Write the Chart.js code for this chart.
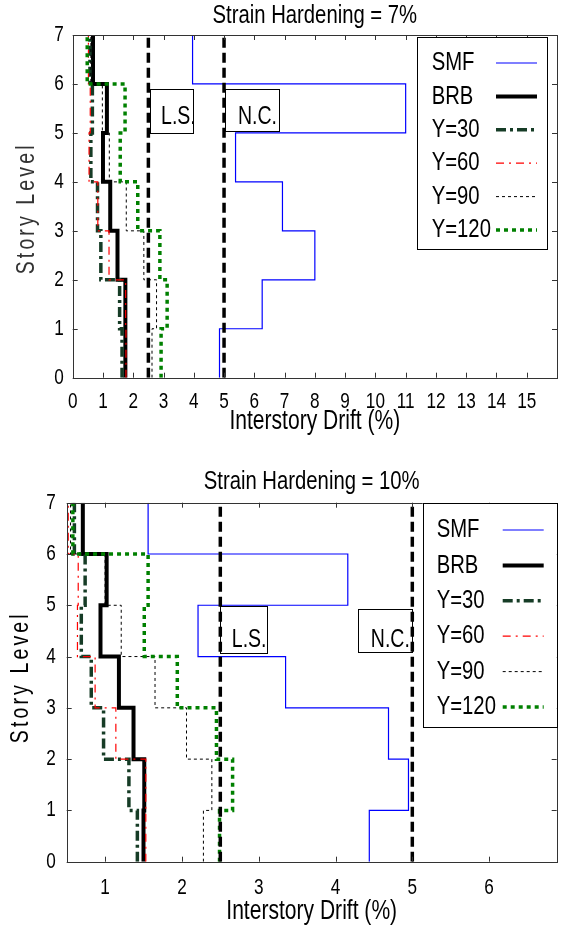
<!DOCTYPE html>
<html>
<head>
<meta charset="utf-8">
<script src="https://cdn.jsdelivr.net/npm/chart.js@4"></script>
<style>
  html, body { margin: 0; padding: 0; background: #fff; }
  body { width: 562px; height: 927px; position: relative; overflow: hidden; }
  canvas { position: absolute; left: 0; }
  #top { top: 0; }
  #bottom { top: 460px; }
</style>
</head>
<body>
<canvas id="top" width="562" height="445"></canvas>
<canvas id="bottom" width="562" height="467"></canvas>
<script>
// story levels (also the y ticks)
const storyLevels = [0, 1, 2, 3, 4, 5, 6, 7];
const seriesNames = ["SMF", "BRB", "Y=30", "Y=60", "Y=90", "Y=120"];

// strain hardening = 7%, drift per story (story 1 .. 7)
const smf7 = [4.85, 6.26, 8.0, 6.93, 5.38, 11.0, 3.96];
const brb7 = [1.74, 1.74, 1.48, 1.24, 1.0, 1.13, 0.67];
const y30_7 = [1.63, 1.55, 0.93, 0.82, 0.6, 0.65, 0.57];
const y60_7 = [1.76, 1.75, 1.2, 0.83, 0.54, 0.58, 0.52];
const y90_7 = [2.62, 2.77, 2.35, 1.77, 1.21, 0.98, 0.6];
const y120_7 = [2.92, 3.12, 2.88, 2.15, 1.57, 1.73, 0.48];
const xTicks7 = [0, 1, 2, 3, 4, 5, 6, 7, 8, 9, 10, 11, 12, 13, 14, 15];

// strain hardening = 10%
const smf10 = [4.44, 4.95, 4.69, 3.35, 2.21, 4.16, 1.56];
const brb10 = [1.50, 1.51, 1.37, 1.18, 0.94, 1.02, 0.71];
const y30_10 = [1.42, 1.31, 0.98, 0.82, 0.69, 0.74, 0.6];
const y60_10 = [1.53, 1.53, 1.14, 0.87, 0.64, 0.65, 0.52];
const y90_10 = [2.28, 2.39, 2.06, 1.65, 1.21, 1.0, 0.55];
const y120_10 = [2.49, 2.66, 2.45, 1.94, 1.51, 1.56, 0.58];
const xTicks10 = [1, 2, 3, 4, 5, 6];

// performance limits (drift %)
const limitLS = 2.5;
const limitNC = 5.0;

const FONT = "'Liberation Sans', Arial, sans-serif";
const SQUEEZE = 0.78; // no narrow font installed, so text is compressed sideways

const styles = [
  { color: "#0000ff", width: 1.2, dash: [] },
  { color: "#000000", width: 4, dash: [] },
  { color: "#163c26", width: 3.5, dash: [10, 4, 3, 4] },
  { color: "#ff0000", width: 1.2, dash: [8, 5, 2, 5] },
  { color: "#000000", width: 1, dash: [3, 3] },
  { color: "#008000", width: 3.5, dash: [4, 4] },
];

function stepPoints(vals) {
  const pts = [];
  vals.forEach((v, i) => {
    pts.push({ x: v, y: storyLevels[i] });
    pts.push({ x: v, y: storyLevels[i + 1] });
  });
  return pts;
}

function limitLine(x) {
  return [{ x: x, y: storyLevels[0] }, { x: x, y: storyLevels[storyLevels.length - 1] }];
}

function makeDatasets(seriesList) {
  const sets = seriesList.map((vals, i) => ({
    label: seriesNames[i],
    data: stepPoints(vals),
    borderColor: styles[i].color,
    borderWidth: styles[i].width,
    borderDash: styles[i].dash,
    order: 10 - i,
  }));
  [limitLS, limitNC].forEach(x => {
    sets.push({
      label: "",
      data: limitLine(x),
      borderColor: "#000",
      borderWidth: 3.5,
      borderDash: [10, 5],
      order: 0,
    });
  });
  return sets;
}

function squeezeText(canvas) {
  const ctx = canvas.getContext("2d");
  const fill = ctx.fillText.bind(ctx);
  ctx.fillText = function (text, x, y) {
    this.save();
    this.translate(x, y);
    this.scale(SQUEEZE, 1);
    fill(text, 0, 0);
    this.restore();
  };
}

// draws frame, inward ticks, legend, text boxes, y title
const decorPlugin = {
  id: "decor",
  afterDatasetsDraw(chart, args, opts) {
    const ctx = chart.ctx;
    const a = chart.chartArea;
    const xs = chart.scales.x, ys = chart.scales.y;
    ctx.save();
    // annotation boxes
    ctx.lineWidth = 1;
    ctx.strokeStyle = "#000";
    ctx.fillStyle = "#000";
    ctx.font = "25px " + FONT;
    ctx.textBaseline = "middle";
    ctx.textAlign = "left";
    opts.notes.forEach(n => {
      const x1 = xs.getPixelForValue(n.box[0]), x2 = xs.getPixelForValue(n.box[1]);
      const y1 = ys.getPixelForValue(n.box[2]), y2 = ys.getPixelForValue(n.box[3]);
      ctx.strokeRect(Math.round(x1) + 0.5, Math.round(y2) + 0.5, Math.round(x2 - x1), Math.round(y1 - y2));
      ctx.fillText(n.text, xs.getPixelForValue(n.tx), ys.getPixelForValue(n.ty));
    });
    // frame
    ctx.strokeStyle = "#333";
    ctx.lineWidth = 1;
    ctx.setLineDash([]);
    ctx.strokeRect(Math.round(a.left) + 0.5, Math.round(a.top) + 0.5, Math.round(a.right - a.left), Math.round(a.bottom - a.top));
    // inward ticks
    const tl = 5;
    ctx.beginPath();
    xs.ticks.forEach(t => {
      const px = Math.round(xs.getPixelForValue(t.value)) + 0.5;
      ctx.moveTo(px, a.bottom); ctx.lineTo(px, a.bottom - tl);
      ctx.moveTo(px, a.top); ctx.lineTo(px, a.top + tl);
    });
    ys.ticks.forEach(t => {
      const py = Math.round(ys.getPixelForValue(t.value)) + 0.5;
      ctx.moveTo(a.left, py); ctx.lineTo(a.left + tl, py);
      ctx.moveTo(a.right, py); ctx.lineTo(a.right - tl, py);
    });
    ctx.stroke();
    // legend
    const L = opts.legend;
    const lx = a.right - L.fromRight, lw = L.width;
    const ly = a.top + L.top, lh = L.height;
    ctx.fillStyle = "#fff";
    ctx.fillRect(lx, ly, lw, lh);
    ctx.strokeStyle = "#000";
    ctx.lineWidth = 1;
    ctx.strokeRect(Math.round(lx) + 0.5, Math.round(ly) + 0.5, Math.round(lw), Math.round(lh));
    ctx.font = "26px " + FONT;
    ctx.textAlign = "left";
    ctx.textBaseline = "middle";
    chart.data.datasets.forEach((ds, i) => {
      if (!ds.label) return;
      const ry = ly + L.first + i * L.step;
      ctx.fillStyle = "#000";
      ctx.fillText(ds.label, lx + L.textX, ry);
      ctx.beginPath();
      ctx.strokeStyle = ds.borderColor;
      ctx.lineWidth = ds.borderWidth;
      ctx.setLineDash(ds.borderDash);
      ctx.moveTo(lx + L.lineX1, ry);
      ctx.lineTo(lx + L.lineX2, ry);
      ctx.stroke();
    });
    ctx.setLineDash([]);
    // y title
    ctx.translate(opts.yTitleX, (a.top + a.bottom) / 2 + opts.yTitleShift);
    ctx.rotate(-Math.PI / 2);
    ctx.fillStyle = opts.yTitleColor;
    ctx.font = "25px " + FONT;
    ctx.textAlign = "center";
    ctx.textBaseline = "middle";
    try { ctx.letterSpacing = "4px"; } catch (e) {}
    ctx.fillText("Story Level", 0, 0);
    ctx.restore();
  },
};

function buildChart(id, cfg) {
  const canvas = document.getElementById(id);
  squeezeText(canvas);
  return new Chart(canvas, {
    type: "scatter",
    data: { datasets: makeDatasets(cfg.series) },
    options: {
      responsive: false,
      animation: false,
      devicePixelRatio: 1,
      showLine: true,
      elements: {
        point: { radius: 0, hoverRadius: 0 },
        line: { tension: 0, borderJoinStyle: "miter", borderCapStyle: "butt", fill: false },
      },
      layout: { padding: { left: 0, right: cfg.padRight, top: 0, bottom: 0 } },
      plugins: {
        legend: { display: false },
        tooltip: { enabled: false },
        title: {
          display: true,
          text: cfg.title,
          fullSize: false,
          color: "#000",
          font: { family: FONT, size: 26, weight: "normal", lineHeight: 1.2 },
          padding: cfg.titlePad,
        },
        decor: {
          notes: cfg.notes,
          legend: cfg.legend,
          yTitleX: cfg.yTitleX,
          yTitleShift: cfg.yTitleShift,
          yTitleColor: cfg.yTitleColor,
        },
      },
      scales: {
        x: {
          type: "linear",
          min: cfg.xMin,
          max: cfg.xMax,
          afterBuildTicks: s => { s.ticks = cfg.xTicks.map(v => ({ value: v })); },
          afterFit: s => { s.height = cfg.xAxisHeight; },
          grid: { display: false, drawTicks: false },
          border: { display: false },
          ticks: { color: "#000", font: { family: FONT, size: 22 }, padding: cfg.xTickPad, maxRotation: 0, autoSkip: false },
          title: {
            display: true,
            text: "Interstory Drift (%)",
            color: "#000",
            font: { family: FONT, size: 27, lineHeight: 1 },
            padding: { top: 0, bottom: cfg.xTitlePad },
          },
        },
        y: {
          type: "linear",
          min: 0,
          max: 7,
          afterBuildTicks: s => { s.ticks = storyLevels.map(v => ({ value: v })); },
          afterFit: s => { s.width = cfg.yAxisWidth; },
          grid: { display: false, drawTicks: false },
          border: { display: false },
          ticks: { color: "#000", font: { family: FONT, size: 22 }, padding: cfg.yTickPad },
        },
      },
    },
    plugins: [decorPlugin],
  });
}

buildChart("top", {
  series: [smf7, brb7, y30_7, y60_7, y90_7, y120_7],
  title: "Strain Hardening = 7%",
  titlePad: { top: 0, bottom: 3.8 },
  xMin: 0, xMax: 16, xTicks: xTicks7,
  xAxisHeight: 67.3, xTickPad: 11, xTitlePad: 10,
  yAxisWidth: 72.7, yTickPad: 9, padRight: 5,
  yTitleX: 27, yTitleShift: 2, yTitleColor: "#333",
  notes: [
    { text: "L.S.", box: [2.57, 4.0, 5.0, 5.9], tx: 2.92, ty: 5.32 },
    { text: "N.C.", box: [5.03, 6.82, 5.05, 5.9], tx: 5.46, ty: 5.32 },
  ],
  legend: { fromRight: 140, width: 130, top: 2, height: 212, first: 26, step: 33.4, textX: 14.7, lineX1: 79, lineX2: 120 },
});

buildChart("bottom", {
  series: [smf10, brb10, y30_10, y60_10, y90_10, y120_10],
  title: "Strain Hardening = 10%",
  titlePad: { top: 6, bottom: 5.5 },
  xMin: 0.5, xMax: 6.88, xTicks: xTicks10,
  xAxisHeight: 65.3, xTickPad: 13, xTitlePad: 2,
  yAxisWidth: 66.7, yTickPad: 11, padRight: 5.3,
  yTitleX: 21, yTitleShift: -5, yTitleColor: "#000",
  notes: [
    { text: "L.S.", box: [2.5, 3.11, 4.07, 4.98], tx: 2.65, ty: 4.32 },
    { text: "N.C.", box: [4.29, 4.99, 4.09, 4.93], tx: 4.46, ty: 4.32 },
  ],
  legend: { fromRight: 134, width: 134, top: 0, height: 224, first: 27.3, step: 35.4, textX: 14, lineX1: 80, lineX2: 121 },
});
</script>
</body>
</html>
